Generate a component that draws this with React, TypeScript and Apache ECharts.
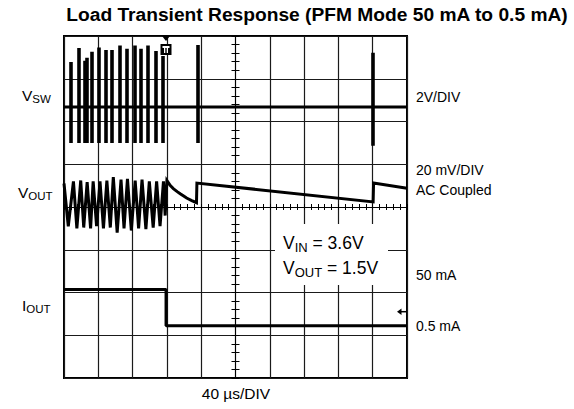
import React, { useEffect, useRef } from "react";
import * as echarts from "echarts";

// time axis in µs (40 µs/DIV, 10 divisions), vertical axis in divisions (8 divisions)
const timeMin = -200;
const timeMax = 200;
const timeStep = 40;
const divMin = -4;
const divMax = 4;

// V_SW trace
const swBaseT = [-200, 200];
const swBaseV = [2.34, 2.34];
const swSpikeT = [-192, -183, -176, -174, -168, -159, -151, -144, -135, -127, -118, -110, -102, -93, -85, -44, 160.5];
const swSpikeTop = [3.39, 3.72, 3.42, 3.49, 3.63, 3.73, 3.67, 3.67, 3.78, 3.7, 3.78, 3.7, 3.78, 3.65, 3.53, 3.79, 3.61];
const swSpikeBottom = [1.5, 1.5, 1.5, 1.5, 1.5, 1.5, 1.5, 1.5, 1.5, 1.5, 1.5, 1.5, 1.5, 1.5, 1.5, 1.5, 1.43];

// V_OUT trace (AC coupled, 20 mV/DIV)
const voutT = [
  -200, -195, -189, -185, -180.5, -177, -173, -169, -166, -162, -158, -154, -150, -146,
  -142.5, -138, -133.5, -130, -126, -121.5, -117, -113, -109, -104.5, -100.5, -96, -92, -88,
  -84, -82, -80, -76, -72.5, -68, -64.5, -60, -57, -51, -45.5, -45, 160.5, 161, 200,
];
const voutV = [
  0.55, -0.45, 0.6, -0.5, 0.62, -0.48, 0.58, -0.5, 0.6, -0.45, 0.6, -0.5, 0.62, -0.48,
  0.7, -0.6, 0.64, -0.5, 0.66, -0.55, 0.62, -0.5, 0.64, -0.52, 0.6, -0.48, 0.6, -0.45,
  0.6, -0.2, 0.62, 0.5, 0.43, 0.36, 0.31, 0.25, 0.21, 0.15, 0.1, 0.56, 0.12, 0.56, 0.44,
];

// I_OUT trace (50 mA -> 0.5 mA)
const ioutT = [-200, -81, -81, 200];
const ioutV = [-1.93, -1.93, -2.78, -2.78];

const FONT = '"Liberation Sans", Arial, Helvetica, sans-serif';

const zip = (a: number[], b: number[]) => a.map((x, i) => [x, b[i]]);

function subText(x: number, y: number, main: string, sub: string, rest: string, size: number, subSize: number) {
  return {
    type: "text",
    z: 20,
    style: {
      x,
      y,
      text: `{m|${main}}{s|${sub}}` + (rest ? `{m|${rest}}` : ""),
      verticalAlign: "middle",
      align: "left",
      rich: {
        m: { fontSize: size, fontFamily: FONT, fill: "#000" },
        s: { fontSize: subSize, fontFamily: FONT, fill: "#000", padding: [Math.round(subSize * 0.7), 0, 0, 0] },
      },
    },
  };
}

function plainText(x: number, y: number, text: string, size: number, align = "left", weight = "normal") {
  return {
    type: "text",
    z: 20,
    style: {
      x,
      y,
      text,
      fontSize: size,
      fontFamily: FONT,
      fontWeight: weight,
      fill: "#000",
      align,
      verticalAlign: "middle",
    },
  };
}

const axisCommon = {
  type: "value",
  axisLabel: { show: false },
  axisLine: { onZero: true, lineStyle: { color: "#000", width: 1 } },
  axisTick: { show: true, length: 3, lineStyle: { color: "#000", width: 1 } },
  minorTick: { show: true, splitNumber: 5, length: 3, lineStyle: { color: "#000", width: 1 } },
  minorSplitLine: { show: false },
};

export default function App() {
  const ref = useRef<HTMLDivElement>(null);
  useEffect(() => {
    document.body.style.margin = "0";
    const chart = echarts.init(ref.current!, null, { renderer: "svg" });
    const option: any = {
      animation: false,
      backgroundColor: "#fff",
      grid: {
        left: 64,
        top: 36,
        width: 343,
        height: 342,
        show: true,
        borderColor: "#000",
        borderWidth: 2,
        backgroundColor: "#fff",
      },
      xAxis: [
        {
          ...axisCommon,
          min: timeMin,
          max: timeMax,
          interval: timeStep,
          position: "bottom",
          splitLine: { show: true, lineStyle: { color: "#1a1a1a", width: 1.2 } },
        },
        {
          ...axisCommon,
          min: timeMin,
          max: timeMax,
          interval: timeStep,
          position: "top",
          splitLine: { show: false },
        },
      ],
      yAxis: [
        {
          ...axisCommon,
          min: divMin,
          max: divMax,
          interval: 1,
          position: "left",
          axisTick: { ...axisCommon.axisTick, length: 4 },
          minorTick: { ...axisCommon.minorTick, length: 4 },
          splitLine: { show: true, lineStyle: { color: "#1a1a1a", width: 1.2 } },
        },
        {
          ...axisCommon,
          min: divMin,
          max: divMax,
          interval: 1,
          position: "right",
          axisTick: { ...axisCommon.axisTick, length: 4 },
          minorTick: { ...axisCommon.minorTick, length: 4 },
          splitLine: { show: false },
        },
      ],
      series: [
        {
          name: "VSW base",
          type: "line",
          data: zip(swBaseT, swBaseV),
          symbol: "none",
          lineStyle: { color: "#000", width: 3 },
          z: 5,
        },
        {
          name: "VSW spikes",
          type: "lines",
          coordinateSystem: "cartesian2d",
          data: swSpikeT.map((t, i) => ({ coords: [[t, swSpikeBottom[i]], [t, swSpikeTop[i]]] })),
          lineStyle: { color: "#000", width: 3.6, opacity: 1 },
          z: 5,
        },
        {
          name: "VOUT",
          type: "line",
          data: zip(voutT, voutV),
          symbol: "none",
          lineStyle: { color: "#000", width: 3, join: "miter" },
          z: 5,
        },
        {
          name: "IOUT",
          type: "line",
          data: zip(ioutT, ioutV),
          symbol: "none",
          lineStyle: { color: "#000", width: 3 },
          z: 5,
        },
      ],
      graphic: [
        // white label box inside the screen
        { type: "rect", z: 15, shape: { x: 275, y: 224, width: 113, height: 61 }, style: { fill: "#fff" } },
        subText(283, 243, "V", "IN", " = 3.6V", 17.5, 13),
        subText(283, 268, "V", "OUT", " = 1.5V", 17.5, 13),
        // trigger marker
        { type: "polygon", z: 20, shape: { points: [[162, 36], [170, 36], [166, 41]] }, style: { fill: "#000" } },
        { type: "rect", z: 20, shape: { x: 160.5, y: 44, width: 11, height: 11 }, style: { fill: "#000" } },
        { type: "rect", z: 21, shape: { x: 162.5, y: 46, width: 7, height: 2 }, style: { fill: "#fff" } },
        { type: "rect", z: 21, shape: { x: 164, y: 46, width: 1.3, height: 7 }, style: { fill: "#fff" } },
        { type: "rect", z: 21, shape: { x: 166.7, y: 46, width: 1.3, height: 7 }, style: { fill: "#fff" } },
        // ground marker arrow
        { type: "polygon", z: 20, shape: { points: [[397, 311.7], [401.5, 308.5], [401.5, 315]] }, style: { fill: "#000" } },
        { type: "line", z: 20, shape: { x1: 401, y1: 311.7, x2: 406, y2: 311.7 }, style: { stroke: "#000", lineWidth: 1.5 } },
        // title
        plainText(317, 14, "Load Transient Response (PFM Mode 50 mA to 0.5 mA)", 19.2, "center", "bold"),
        // left channel labels
        subText(22, 95, "V", "SW", "", 15.5, 11.5),
        subText(18, 192, "V", "OUT", "", 15.5, 11.5),
        subText(22, 305, "I", "OUT", "", 15.5, 11.5),
        // right scale labels
        plainText(416, 97, "2V/DIV", 14),
        plainText(416, 170, "20 mV/DIV", 14),
        plainText(416, 190, "AC Coupled", 14),
        plainText(416, 275, "50 mA", 14),
        plainText(416, 326, "0.5 mA", 14),
        // time base
        plainText(236, 393, "40 µs/DIV", 15.5, "center"),
      ],
    };
    chart.setOption(option);
    return () => chart.dispose();
  }, []);
  return <div ref={ref} style={{ width: 574, height: 409 }} />;
}
